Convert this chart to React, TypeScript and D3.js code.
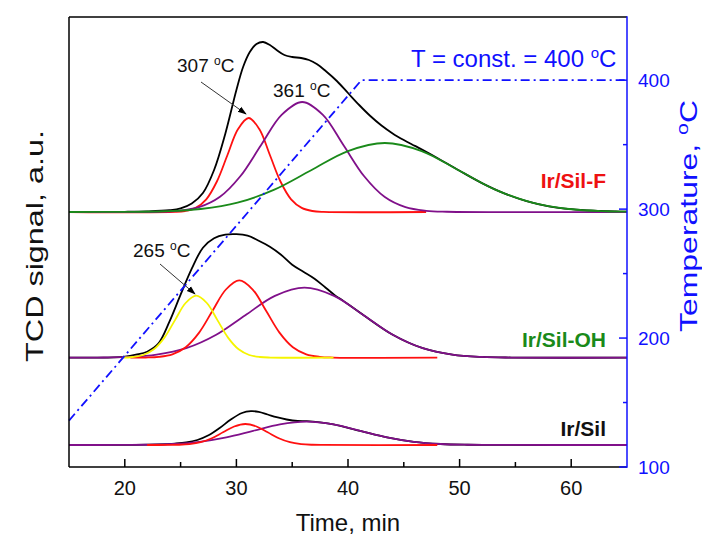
import React from "react";
import * as d3 from "d3";

// ---------- data ----------
const TIME_DOMAIN = [15, 65];
const TEMP_DOMAIN = [100, 449];
const SIGNAL_DOMAIN = [0, 450];
const TIME_TICKS = [20, 30, 40, 50, 60];
const TIME_MINOR = [25, 35, 45, 55];
const TEMP_TICKS = [100, 200, 300, 400];
const TEMP_MINOR = [150, 250, 350];

const PROGRAM_TIME = [15, 41.2, 65];
const PROGRAM_TEMP = [136, 400, 400];

const OFFSET_F = 255;
const OFFSET_OH = 109.3;
const OFFSET_SIL = 22;

type P = [number, number];

const F_BLACK: P[] = [[15,0],[20,0.2],[22,0.6],[24,1.8],[25,3.6],[26,8.5],[27,19],[28,42],[29,78],[30,122],[30.6,145],[31.2,160],[31.8,168],[32.4,170],[33,167],[33.6,162],[34.3,157],[35,155],[35.8,154],[36.5,152],[37.2,148],[38,141],[39,131],[40,119],[41,107],[42,96],[43,86.5],[44,78.6],[45,72],[46,66.1],[47,60.2],[48,54],[50,41.2],[52,28.9],[54,18.6],[56,10.9],[58,5.7],[60,2.8],[62,1.25],[64,0.5],[65,0.3]];
const F_RED: P[] = [[15,0],[24.5,0.1],[25.4,1.0],[26.35,4.1],[27.3,12.7],[28.25,30.5],[29.2,57],[30.15,83],[31.1,94],[32.05,83],[33,57],[33.95,30.5],[34.9,12.7],[35.85,4.1],[36.8,1.0],[37.8,0.1],[47,0]];
const F_PURPLE: P[] = [[15,0],[22.95,0.24],[24.8,1.2],[26.65,4.8],[28.5,14.9],[30.35,35.7],[32.2,66.7],[34.05,97.1],[35.9,110],[37.75,97.1],[39.6,66.7],[41.45,35.7],[43.3,14.9],[45.15,4.8],[47,1.2],[48.85,0.24],[65,0]];
const F_GREEN: P[] = [[15,0],[20.2,0.15],[23.5,0.77],[26.8,3.0],[30.1,9.3],[33.4,22.4],[36.7,41.8],[40,60.9],[43.3,69],[46.6,60.9],[49.9,41.8],[53.2,22.4],[56.5,9.3],[59.8,3.0],[63.1,0.77],[65,0.35]];

const OH_BLACK: P[] = [[15,0],[19,0.3],[20,1],[21,3],[22,6],[23,14],[24,36],[25,63],[26,89],[27,110],[28,119.5],[29,123],[30,123.5],[31,122],[32,117],[33,111],[34,103],[35,93],[36,86],[37,79],[38,70],[39,61],[39.3,59],[41.4,42.5],[44.05,22.7],[46.7,9.5],[49.35,3.1],[52,0.78],[54.65,0.15],[65,0]];
const OH_YELLOW: P[] = [[19.75,0],[20.7,0.69],[21.65,2.7],[22.6,8.4],[23.55,20.1],[24.5,37.6],[25.45,54.7],[26.4,62],[27.35,54.7],[28.3,37.6],[29.25,20.1],[30.2,8.4],[31.15,2.7],[32.1,0.69],[33.05,0.14],[38.7,0]];
const OH_RED: P[] = [[20.5,0],[21.86,0.17],[23.06,0.86],[24.26,3.4],[25.46,10.5],[26.66,25.1],[27.86,46.9],[29.06,68.2],[30.26,77.3],[31.46,68.2],[32.66,46.9],[33.86,25.1],[35.06,10.5],[36.26,3.4],[37.46,0.86],[38.66,0.17],[48,0]];
const OH_PURPLE: P[] = [[15,0],[17.55,0.15],[20.2,0.78],[22.85,3.1],[25.5,9.5],[28.15,22.7],[30.8,42.5],[33.45,61.8],[36.1,70],[38.75,61.8],[41.4,42.5],[44.05,22.7],[46.7,9.5],[49.35,3.1],[52,0.78],[54.65,0.15],[65,0]];

const SIL_BLACK: P[] = [[15,0],[21,0.2],[23,0.6],[24.5,1.4],[25.5,2.5],[26.5,5],[27.5,9.7],[28.5,17],[29.5,25.5],[30.5,32],[31.3,33.8],[32,33.1],[32.8,30.5],[33.6,27.8],[34.5,25.5],[35.5,24],[36.3,23.8],[37.5,22.6],[38.7,20.6],[41.1,14.1],[43.5,7.6],[45.9,3.15],[48.3,1.02],[50.7,0.26],[53.1,0.05],[65,0]];
const SIL_RED: P[] = [[22,0],[23.8,0.05],[24.8,0.23],[25.8,0.92],[26.8,2.8],[27.8,6.8],[28.8,12.7],[29.8,18.5],[30.8,21],[31.8,18.5],[32.8,12.7],[33.8,6.8],[34.8,2.8],[35.8,0.92],[36.8,0.23],[37.8,0.05],[48,0]];
const SIL_PURPLE: P[] = [[15,0],[19.5,0.05],[21.9,0.26],[24.3,1.02],[26.7,3.15],[29.1,7.6],[31.5,14.1],[33.9,20.6],[36.3,23.3],[38.7,20.6],[41.1,14.1],[43.5,7.6],[45.9,3.15],[48.3,1.02],[50.7,0.26],[53.1,0.05],[65,0]];

// ---------- layout ----------
const W = 702, H = 539;
const L = 69, R = 627, T = 17, B = 467;
const FONT = "'Liberation Sans', Arial, Helvetica, sans-serif";
const BLUE = "#1010ff";

const C_BLACK = "#000000", C_RED = "#ff1010", C_PURPLE = "#80108a", C_GREEN = "#1a8a1a", C_YELLOW = "#f5f500";

const PANELS = [
  { offset: OFFSET_F, series: [[F_BLACK, C_BLACK], [F_RED, C_RED], [F_PURPLE, C_PURPLE], [F_GREEN, C_GREEN]] },
  { offset: OFFSET_OH, series: [[OH_BLACK, C_BLACK], [OH_PURPLE, C_PURPLE], [OH_RED, C_RED], [OH_YELLOW, C_YELLOW]] },
  { offset: OFFSET_SIL, series: [[SIL_BLACK, C_BLACK], [SIL_PURPLE, C_PURPLE], [SIL_RED, C_RED]] },
] as { offset: number; series: [P[], string][] }[];

export default function App() {
  const x = d3.scaleLinear().domain(TIME_DOMAIN).range([L, R]);
  const y = d3.scaleLinear().domain(SIGNAL_DOMAIN).range([B, T]);
  const yT = d3.scaleLinear().domain(TEMP_DOMAIN).range([B, T]);

  const tempLine = d3
    .line<number>()
    .x((_, i) => x(PROGRAM_TIME[i]))
    .y((d) => yT(d))(PROGRAM_TEMP) as string;

  return (
    <svg
      width={W}
      height={H}
      style={{ position: "absolute", left: 0, top: 0, background: "#fff" }}
      fontFamily={FONT}
    >
      <defs>
        <marker id="arr" viewBox="0 0 10 10" refX="9" refY="5" markerWidth="9" markerHeight="9" orient="auto" markerUnits="userSpaceOnUse">
          <path d="M0,1.5 L10,5 L0,8.5 z" fill="#000" />
        </marker>
      </defs>

      {/* curves */}
      {PANELS.map((p, pi) => {
        const line = d3
          .line<P>()
          .x((d) => x(d[0]))
          .y((d) => y(p.offset + d[1]))
          .curve(d3.curveCatmullRom.alpha(0.5));
        return (
          <g key={pi}>
            {p.series.map(([data, color], si) => (
              <path key={si} d={line(data) as string} fill="none" stroke={color} strokeWidth={1.8} />
            ))}
          </g>
        );
      })}

      {/* temperature program */}
      <path d={tempLine} fill="none" stroke={BLUE} strokeWidth={1.8} strokeDasharray="9,4,2,4" />

      {/* frame */}
      <line x1={L} x2={R} y1={T} y2={T} stroke="#000" strokeWidth={1.5} />
      <line x1={L} x2={L} y1={T} y2={B} stroke="#000" strokeWidth={1.5} />
      <line x1={L} x2={R} y1={B} y2={B} stroke="#000" strokeWidth={1.5} />
      <line x1={R} x2={R} y1={T - 0.75} y2={B + 0.75} stroke={BLUE} strokeWidth={1.5} />

      {/* bottom ticks */}
      {TIME_TICKS.map((t) => (
        <g key={t}>
          <line x1={x(t)} x2={x(t)} y1={B} y2={B - 8} stroke="#000" strokeWidth={1.5} />
          <text x={x(t)} y={B + 28} textAnchor="middle" fontSize={20} fill="#111">{t}</text>
        </g>
      ))}
      {TIME_MINOR.map((t) => (
        <line key={t} x1={x(t)} x2={x(t)} y1={B} y2={B - 5} stroke="#000" strokeWidth={1.5} />
      ))}

      {/* right ticks */}
      {TEMP_TICKS.map((v) => (
        <g key={v}>
          <line x1={R} x2={R - 8} y1={yT(v)} y2={yT(v)} stroke={BLUE} strokeWidth={1.5} />
          <text x={R + 11} y={yT(v)} dy="0.35em" fontSize={19} fill={BLUE}>{v}</text>
        </g>
      ))}
      {TEMP_MINOR.map((v) => (
        <line key={v} x1={R} x2={R - 4} y1={yT(v)} y2={yT(v)} stroke={BLUE} strokeWidth={1.5} />
      ))}

      {/* axis titles */}
      <text x={(L + R) / 2} y={531} textAnchor="middle" fontSize={24} fill="#111">Time, min</text>
      <text transform={`translate(43, 246) rotate(-90)`} textAnchor="middle" fontSize={24} fill="#111"
        textLength={232} lengthAdjust="spacingAndGlyphs">TCD signal, a.u.</text>
      <text transform={`translate(697, 216) rotate(-90)`} textAnchor="middle" fontSize={24} fill={BLUE}
        textLength={232} lengthAdjust="spacingAndGlyphs">
        Temperature, <tspan dy={-9} fontSize={16}>o</tspan><tspan dy={9}>C</tspan>
      </text>

      {/* annotations */}
      <text x={411} y={67} fontSize={24} fill={BLUE}>
        T = const. = 400 <tspan dy={-9} fontSize={15}>o</tspan><tspan dy={9}>C</tspan>
      </text>
      <text x={177} y={72} fontSize={19} fill="#111">
        307 <tspan dy={-7} fontSize={12}>o</tspan><tspan dy={7}>C</tspan>
      </text>
      <line x1={201} y1={82} x2={246} y2={114} stroke="#333" strokeWidth={1} markerEnd="url(#arr)" />
      <text x={273} y={97} fontSize={19} fill="#111">
        361 <tspan dy={-7} fontSize={12}>o</tspan><tspan dy={7}>C</tspan>
      </text>
      <text x={133} y={257} fontSize={19} fill="#111">
        265 <tspan dy={-7} fontSize={12}>o</tspan><tspan dy={7}>C</tspan>
      </text>
      <line x1={160} y1={264} x2={195} y2={294} stroke="#333" strokeWidth={1} markerEnd="url(#arr)" />

      {/* panel labels */}
      <text x={606} y={188} textAnchor="end" fontSize={21} fontWeight="bold" fill="#ee1111">Ir/Sil-F</text>
      <text x={606} y={347} textAnchor="end" fontSize={21} fontWeight="bold" fill="#1a8a1a">Ir/Sil-OH</text>
      <text x={606} y={436} textAnchor="end" fontSize={21} fontWeight="bold" fill="#111">Ir/Sil</text>
    </svg>
  );
}
